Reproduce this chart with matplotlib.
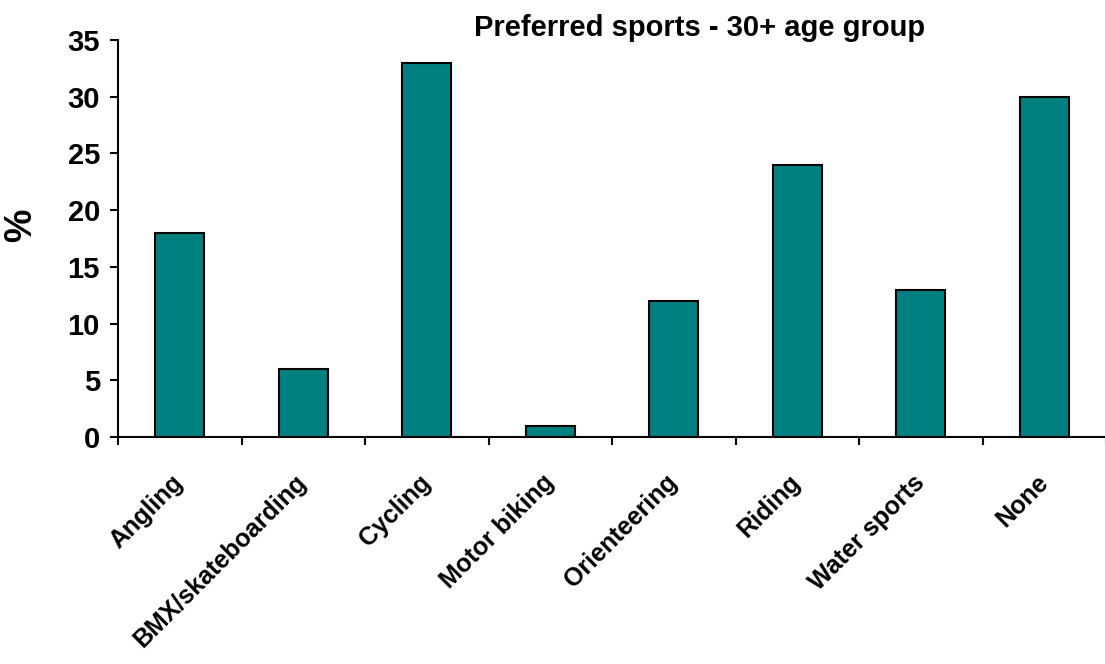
# !/usr/bin/env python3
# -*- coding: utf-8 -*-

import numpy as np
import matplotlib
matplotlib.use('Agg')
import matplotlib.pyplot as plt

# data
sports = ['Angling', 'BMX/skateboarding', 'Cycling', 'Motor biking', 'Orienteering', 'Riding', 'Water sports', 'None']
percent = [18, 6, 33, 1, 12, 24, 13, 30]
y_ticks = [0, 5, 10, 15, 20, 25, 30, 35]

plt.rcParams['font.family'] = ['Liberation Sans', 'DejaVu Sans']
plt.rcParams['font.weight'] = 'bold'

fig = plt.figure(figsize=(11.05, 6.64), dpi=100)
ax = fig.add_axes([118/1105, 1-437/664, (1106-118)/1105, (437-40)/664])

x = np.arange(len(sports))
ax.bar(x, percent, width=0.4, color='#008080', edgecolor='black', linewidth=1.5, zorder=2)

ax.set_xlim(-0.5, len(sports)-0.5)
ax.set_ylim(0, 35)
ax.set_yticks(y_ticks)
ax.set_yticklabels([str(v) for v in y_ticks], fontsize=21, fontweight='bold')

# ticks between categories like excel
ax.set_xticks(np.arange(len(sports)+1)-0.5)
ax.set_xticklabels([])
ax.set_xticks(x, minor=True)
ax.set_xticklabels(sports, minor=True, rotation=45, ha='right', va='center', rotation_mode='anchor', fontsize=18, fontweight='bold')
ax.tick_params(axis='x', which='minor', length=0, pad=30)
ax.tick_params(axis='x', which='major', length=6, width=1.5, direction='out')
ax.tick_params(axis='y', length=6, width=1.5, direction='out', pad=7)

for s in ['top', 'right']:
	ax.spines[s].set_visible(False)
for s in ['left', 'bottom']:
	ax.spines[s].set_linewidth(1.5)

fig.text(700/1105, 1-28/664, 'Preferred sports - 30+ age group', ha='center', va='center', fontsize=21, fontweight='bold')
fig.text(21/1105, 1-225/664, '%', rotation=90, ha='center', va='center', fontsize=27, fontweight='bold')

fig.savefig('out.png', dpi=100)
